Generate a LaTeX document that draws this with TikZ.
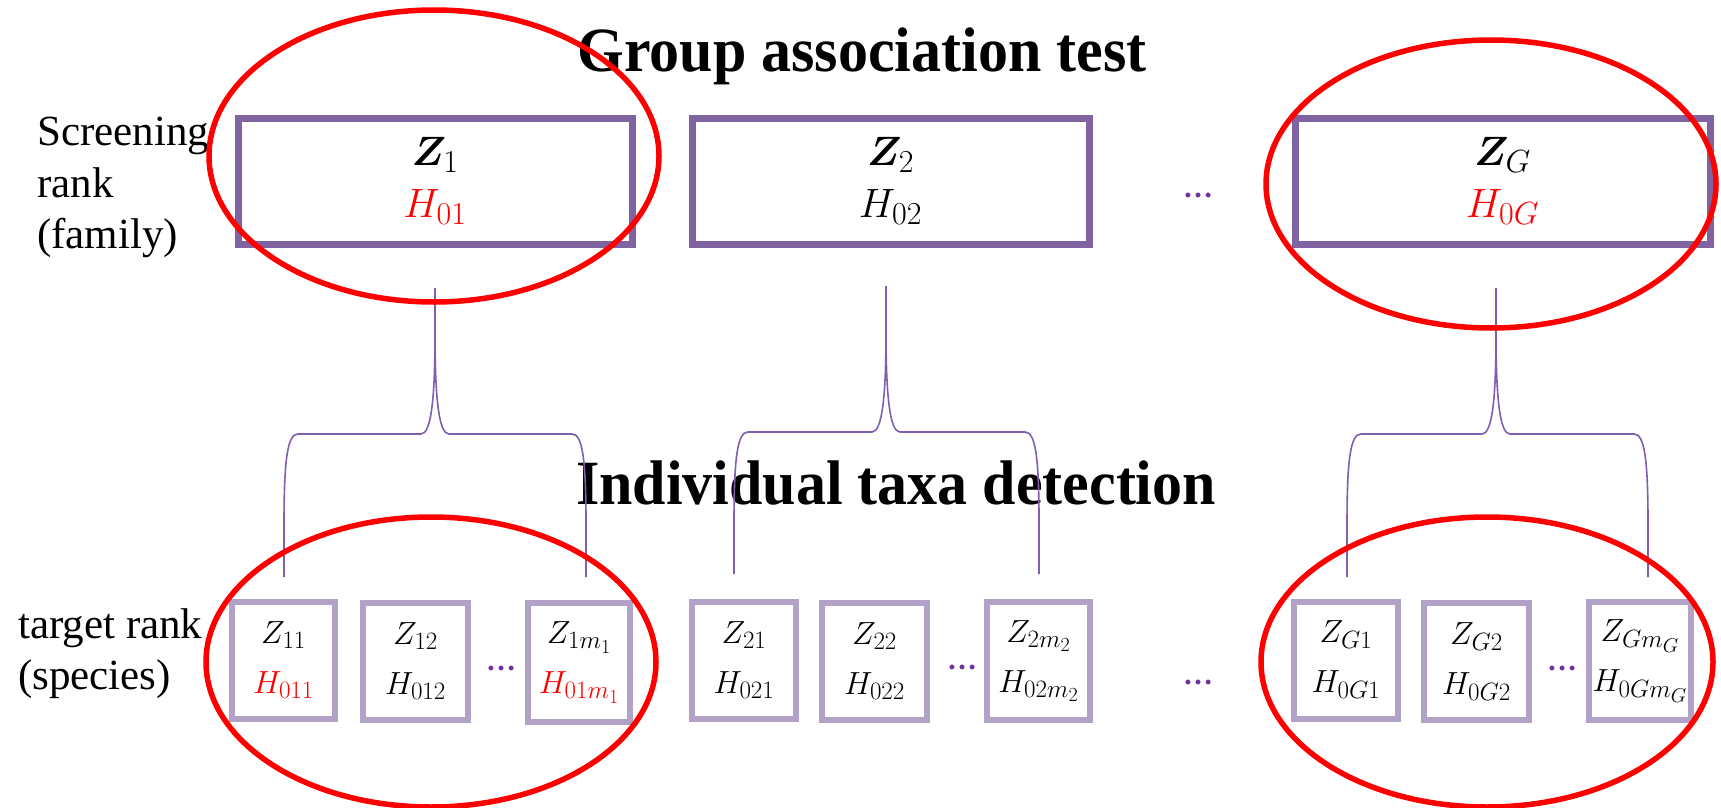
\RequirePackage{fix-cm}
\documentclass[tikz,border=0pt]{standalone}
\usepackage{amsmath,bm}
\usepackage{fontspec}
\setmainfont{Liberation Serif}
\usetikzlibrary{calc}
\DeclareMathSizes{41}{41}{32}{24}
\DeclareMathSizes{32}{32}{25}{20}
\definecolor{boxdark}{HTML}{8064A2}
\definecolor{boxlight}{HTML}{B3A2C7}
\definecolor{bracecol}{HTML}{7F5FB0}
\definecolor{dotcol}{HTML}{7030A0}
\definecolor{hlred}{HTML}{FF0000}
\newcommand{\halfbrace}[4]{%
  \draw[brace] (#1) -- ($(#1|-#2)+(0,90)$)
    .. controls ($(#1|-#2)+(0,25)$) and ($(#1|-#2)+0.25*(#4,0)$) .. ($(#1|-#2)+(#4,0)$)
    -- ($(#2)-(#4,0)$)
    .. controls ($(#2)-0.28*(#4,0)$) and ($(#2)+(0,-35)$) .. ($(#2)+(0,-100)$)
    -- (#3);}
\begin{document}
\begin{tikzpicture}[x=1pt,y=-1pt,
  topbox/.style={draw=boxdark, line width=7pt, minimum height=126pt, inner sep=0pt, align=center, font=\fontsize{41}{52}\selectfont},
  subbox/.style={draw=boxlight, line width=6pt, minimum height=117pt, minimum width=104pt, inner sep=0pt, align=center, font=\fontsize{32}{50}\selectfont},
  ring/.style={draw=hlred, line width=5.5pt},
  brace/.style={draw=bracecol, line width=1.6pt},
  dotsn/.style={text=dotcol, font=\fontsize{30}{30}\selectfont\bfseries, inner sep=0pt},
  side/.style={anchor=base west, inner sep=0pt, font=\fontsize{43}{50}\selectfont},
  heading/.style={anchor=base, inner sep=0pt, font=\fontsize{63}{70}\selectfont\bfseries}]
\useasboundingbox (0,0) rectangle (1721,808);
\fill[white] (0,0) rectangle (1721,808);

% headings
\node[heading] (t1) at (862,71) {\resizebox{569pt}{\height}{Group association test}};
\node[heading] (t2) at (896,504) {\resizebox{640pt}{\height}{Individual taxa detection}};

% side labels
\node[side] (s1) at (37,145) {Screening};
\node[side] (s2) at (37,197) {rank};
\node[side] (s3) at (37,248) {(family)};
\node[side] (s4) at (18,638) {target rank};
\node[side] (s5) at (18,689) {(species)};

% top boxes
\node[topbox, minimum width=394pt] (b1) at (435,181) {$\bm{Z}_1$\\\textcolor{hlred}{$H_{01}$}};
\node[topbox, minimum width=397pt] (b2) at (890.5,181) {$\bm{Z}_2$\\$H_{02}$};
\node[topbox, minimum width=415pt] (bG) at (1502.5,181) {$\bm{Z}_G$\\\textcolor{hlred}{$H_{0G}$}};
\node[dotsn] (d0) at (1198,195) {…};

% bottom boxes
\node[subbox, minimum width=103pt] (c11) at (283.5,660) {$Z_{11}$\\\textcolor{hlred}{$H_{011}$}};
\node[subbox, minimum width=105pt] (c12) at (415.5,661) {$Z_{12}$\\$H_{012}$};
\node[subbox, minimum width=102pt, minimum height=119pt] (c1m) at (579,662.5) {$Z_{1m_1}$\\\textcolor{hlred}{$H_{01m_1}$}};
\node[subbox] (c21) at (744,660) {$Z_{21}$\\$H_{021}$};
\node[subbox, minimum width=105pt] (c22) at (874.5,661) {$Z_{22}$\\$H_{022}$};
\node[subbox, minimum width=103pt, minimum height=118pt] (c2m) at (1038.5,661) {$Z_{2m_2}$\\$H_{02m_2}$};
\node[subbox] (cG1) at (1346,660) {$Z_{G1}$\\$H_{0G1}$};
\node[subbox, minimum width=105pt] (cG2) at (1476.5,661.5) {$Z_{G2}$\\$H_{0G2}$};
\node[subbox, minimum width=102pt, minimum height=118pt] (cGm) at (1640,661) {$Z_{Gm_G}$\\$H_{0Gm_G}$};

\node[dotsn] (d1) at (501,668) {…};
\node[dotsn] (d2) at (962,667) {…};
\node[dotsn] (d3) at (1198,682) {…};
\node[dotsn] (d4) at (1562,668) {…};

% braces
\coordinate (top1) at (435,288); \coordinate (hub1) at (435,434);
\coordinate (lft1) at (284,577); \coordinate (rgt1) at (586,577);
\coordinate (top2) at (886,286); \coordinate (hub2) at (886,432);
\coordinate (lft2) at (734,574); \coordinate (rgt2) at (1039,574);
\coordinate (topG) at (1496,288); \coordinate (hubG) at (1496,434);
\coordinate (lftG) at (1347,577); \coordinate (rgtG) at (1648,577);
\halfbrace{lft1}{hub1}{top1}{14}
\halfbrace{rgt1}{hub1}{top1}{-14}
\halfbrace{lft2}{hub2}{top2}{14}
\halfbrace{rgt2}{hub2}{top2}{-14}
\halfbrace{lftG}{hubG}{topG}{14}
\halfbrace{rgtG}{hubG}{topG}{-14}

% highlight rings
\draw[ring] (434,156) ellipse [x radius=225, y radius=146];
\draw[ring] (1491,184) ellipse [x radius=225, y radius=144];
\draw[ring] (431,662) ellipse [x radius=225, y radius=145];
\draw[ring] (1487,662) ellipse [x radius=226, y radius=145];
\end{tikzpicture}
\end{document}
